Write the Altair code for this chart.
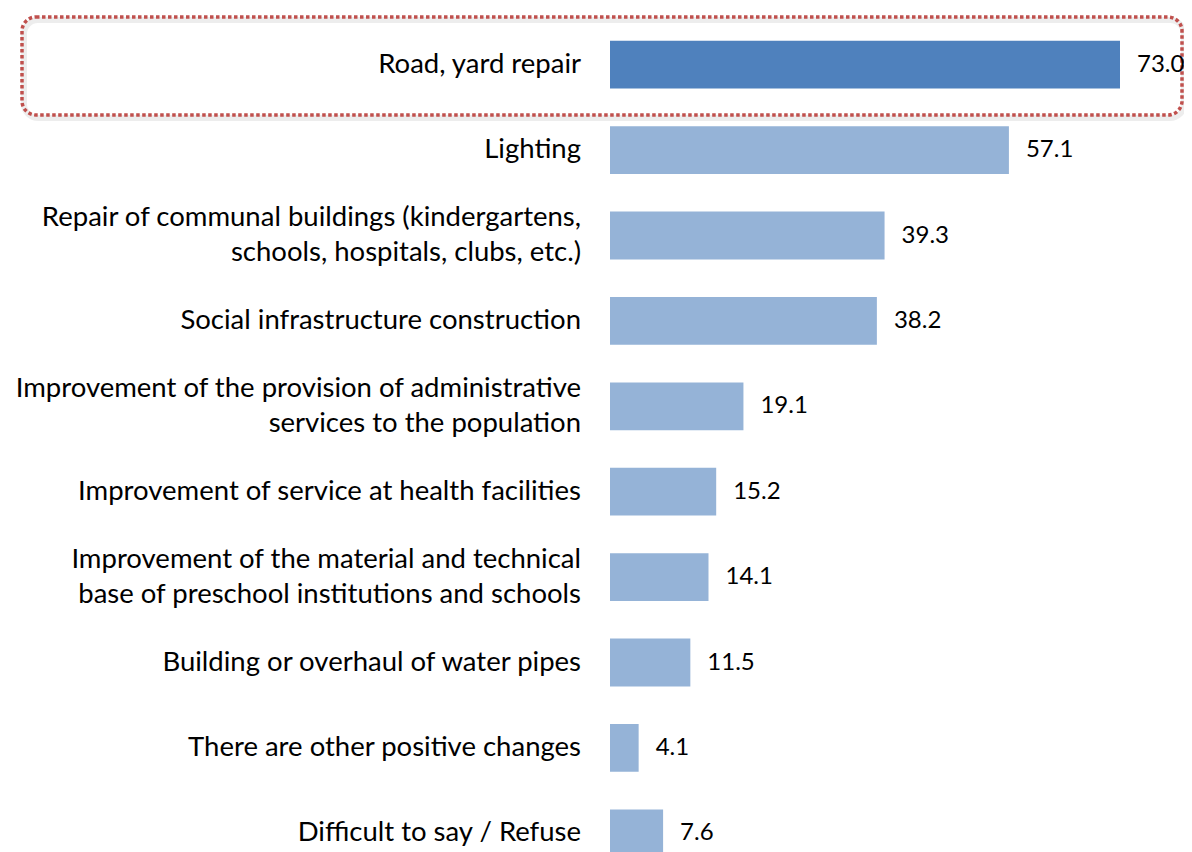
import altair as alt
import pandas as pd

categories = [
    "Road, yard repair",
    "Lighting",
    "Repair of communal buildings (kindergartens,\nschools, hospitals, clubs, etc.)",
    "Social infrastructure construction ",
    "Improvement of the provision of administrative\nservices to the population",
    "Improvement of service at health facilities ",
    "Improvement of the material and technical\nbase of preschool institutions and schools",
    "Building or overhaul of water pipes",
    "There are other positive changes",
    "Difficult to say / Refuse",
]
values = [73.0, 57.1, 39.3, 38.2, 19.1, 15.2, 14.1, 11.5, 4.1, 7.6]
highlight = [True, False, False, False, False, False, False, False, False, False]

df = pd.DataFrame({
    "cat": categories,
    "value": values,
    "hl": highlight,
    "vlabel": [f"{v:.1f}" for v in values],
    "nl": [c.count("\n") + 1 for c in categories],
})

FONT = "Lato"
FS = 27.5
LH = 35

y_enc = alt.Y("cat:N", sort=None, axis=None,
              scale=alt.Scale(paddingInner=0.44, paddingOuter=0.22))
x_scale = alt.Scale(domain=[0, 73], nice=False, zero=True)

base = alt.Chart(df)

bars = base.mark_bar().encode(
    y=y_enc,
    x=alt.X("value:Q", scale=x_scale, axis=None),
    color=alt.Color("hl:N", scale=alt.Scale(domain=[True, False], range=["#4F81BD", "#95B3D7"]), legend=None),
)

vals = base.mark_text(align="left", baseline="middle", dx=17, font=FONT, fontSize=24, color="#000000").encode(
    y=y_enc,
    x=alt.X("value:Q", scale=x_scale, axis=None),
    text="vlabel:N",
)

labels1 = base.transform_filter("datum.nl == 1").mark_text(
    align="right", baseline="middle", font=FONT, fontSize=FS, color="#000000"
).encode(
    y=y_enc,
    x=alt.value(-29),
    text="cat:N",
)

labels2 = base.transform_filter("datum.nl == 2").mark_text(
    align="right", baseline="middle", font=FONT, fontSize=FS, color="#000000",
    lineBreak="\n", lineHeight=LH, dy=-LH / 2
).encode(
    y=y_enc,
    x=alt.value(-29),
    text="cat:N",
)

box_df = pd.DataFrame({"k": [0]})
shadow = alt.Chart(box_df).mark_rect(
    fill=None, stroke="#000000", strokeOpacity=0.07, strokeWidth=6, cornerRadius=14
).encode(
    x=alt.value(-586), x2=alt.value(574), y=alt.value(-2), y2=alt.value(96)
)
box = alt.Chart(box_df).mark_rect(
    fill=None, stroke="#C0504D", strokeWidth=3.5, strokeDash=[3.5, 2.5], cornerRadius=14
).encode(
    x=alt.value(-588), x2=alt.value(572), y=alt.value(-5), y2=alt.value(93)
)

chart = alt.layer(shadow, box, bars, vals, labels1, labels2).properties(
    width=510, height=854,
    padding={"left": 602, "top": 14, "right": 64, "bottom": 10},
    autosize=alt.AutoSizeParams(type="none"),
).configure_view(stroke=None)

chart.save("out.html", embed_options={"renderer": "svg", "actions": False})
